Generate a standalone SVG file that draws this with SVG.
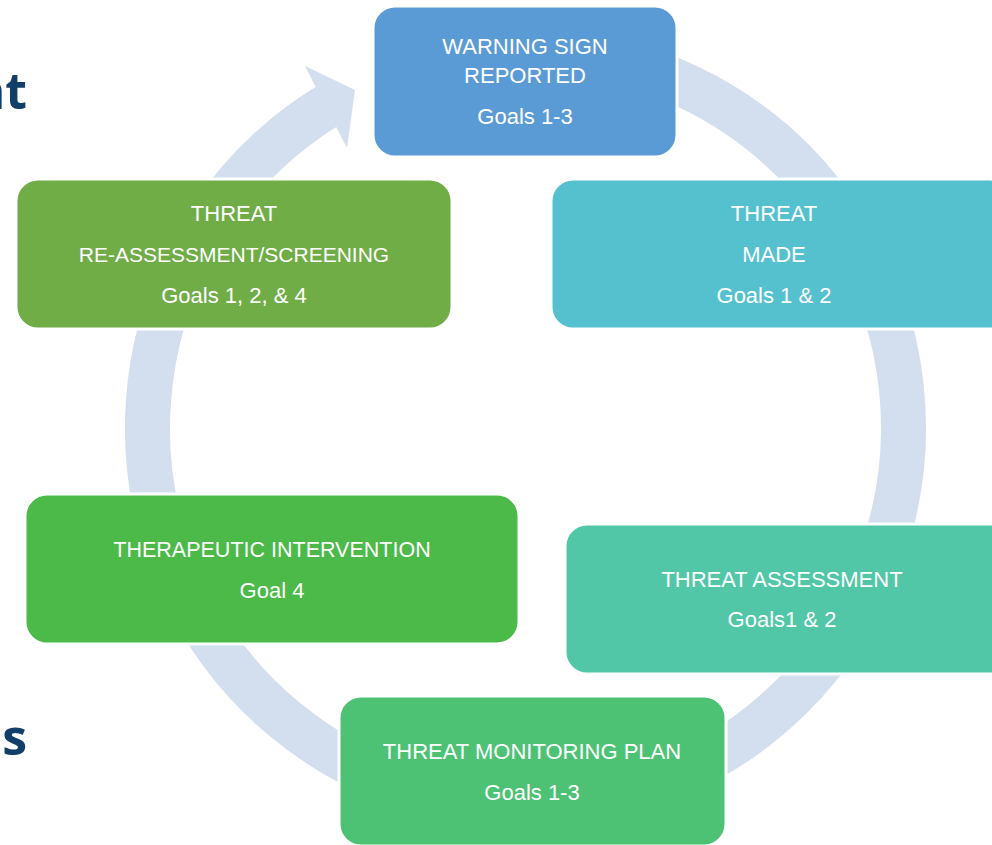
<svg xmlns="http://www.w3.org/2000/svg" width="992" height="845" viewBox="0 0 992 845">
<style>
.box{stroke:#ffffff;stroke-width:3}
.t{font-family:"Liberation Sans",Arial,sans-serif;font-size:22px;fill:#ffffff;text-anchor:middle}
.side{font-family:"Open Sans","Liberation Sans",sans-serif;font-size:50px;font-weight:700;fill:#123f69;text-anchor:end}
.ring{fill:none;stroke:#d3deef;stroke-width:45}
</style>
<rect width="992" height="845" fill="#ffffff"/>
<text class="side" x="27" y="109">nt</text>
<text class="side" x="27" y="755">es</text>
<g id="connectors">
<path class="ring" d="M 525.5 50 A 378 378 0 1 1 330.8 104.0"/>
<polygon points="305,66 355,90 347,148" fill="#d3deef"/>
</g>
<g id="warning-sign-reported">
<rect class="box" x="373" y="6" width="304" height="151" rx="22" fill="#5b9bd5"/>
<text class="t" x="525" y="54">WARNING SIGN</text>
<text class="t" x="525" y="83">REPORTED</text>
<text class="t" x="525" y="124">Goals 1-3</text>
</g>
<g id="threat-made">
<rect class="box" x="551" y="179" width="460" height="150" rx="22" fill="#55c1cf"/>
<text class="t" x="774" y="221">THREAT</text>
<text class="t" x="774" y="262">MADE</text>
<text class="t" x="774" y="303">Goals 1 &amp; 2</text>
</g>
<g id="threat-assessment">
<rect class="box" x="565" y="524" width="450" height="150" rx="22" fill="#51c7a8"/>
<text class="t" x="782" y="587">THREAT ASSESSMENT</text>
<text class="t" x="782" y="627">Goals1 &amp; 2</text>
</g>
<g id="threat-monitoring-plan">
<rect class="box" x="339" y="696" width="387" height="150" rx="22" fill="#4dc274"/>
<text class="t" x="532" y="759">THREAT MONITORING PLAN</text>
<text class="t" x="532" y="800">Goals 1-3</text>
</g>
<g id="therapeutic-intervention">
<rect class="box" x="25" y="494" width="494" height="150" rx="22" fill="#4bba48"/>
<text class="t" x="272" y="557" style="font-size:21.5px">THERAPEUTIC INTERVENTION</text>
<text class="t" x="272" y="598">Goal 4</text>
</g>
<g id="threat-reassessment">
<rect class="box" x="16" y="179" width="436" height="150" rx="22" fill="#70ad47"/>
<text class="t" x="234" y="221">THREAT</text>
<text class="t" x="234" y="262" style="font-size:21px">RE-ASSESSMENT/SCREENING</text>
<text class="t" x="234" y="303">Goals 1, 2, &amp; 4</text>
</g>
</svg>
